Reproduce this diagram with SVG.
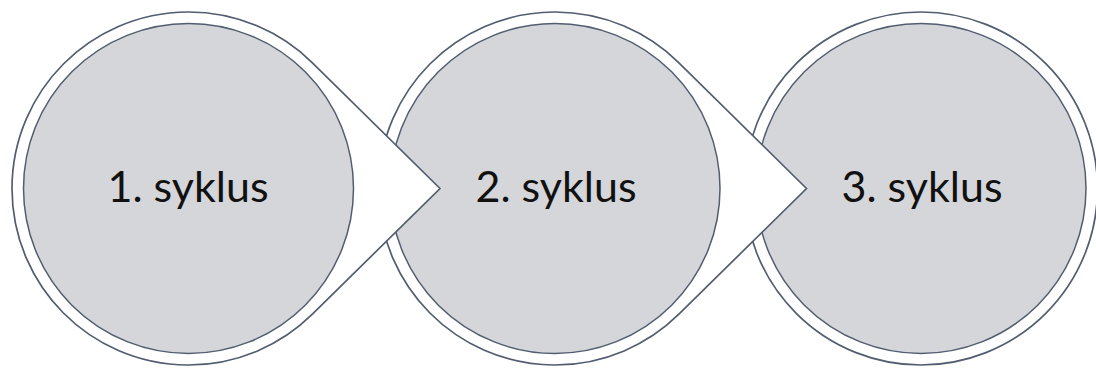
<svg xmlns="http://www.w3.org/2000/svg" width="1096" height="372" viewBox="0 0 1096 372">
<style>
.outer{fill:#ffffff;stroke:#525d70;stroke-width:1.7}
.inner{fill:#d5d6d9;stroke:#525d70;stroke-width:1.5}
.lbl{font-family:Lato,"Liberation Sans",sans-serif;font-size:43px;fill:#111111;text-anchor:middle}
</style>
<rect width="1096" height="372" fill="#ffffff"/>
<g id="connectors"></g>
<g id="node3">
<circle class="outer" cx="921" cy="188.5" r="176.5"/>
<circle class="inner" cx="921" cy="188.5" r="165"/>
<text class="lbl" x="922" y="202">3. syklus</text>
</g>
<g id="node2">
<path class="outer" d="M806.5 188.5 L678.9 62.8 A176.5 176.5 0 1 0 678.9 314.2 Z"/>
<circle class="inner" cx="555" cy="188.5" r="165"/>
<text class="lbl" x="556" y="202">2. syklus</text>
</g>
<g id="node1">
<path class="outer" d="M440 188.5 L312.4 62.8 A176.5 176.5 0 1 0 312.4 314.2 Z"/>
<circle class="inner" cx="188.5" cy="188.5" r="165"/>
<text class="lbl" x="188" y="202">1. syklus</text>
</g>
</svg>
